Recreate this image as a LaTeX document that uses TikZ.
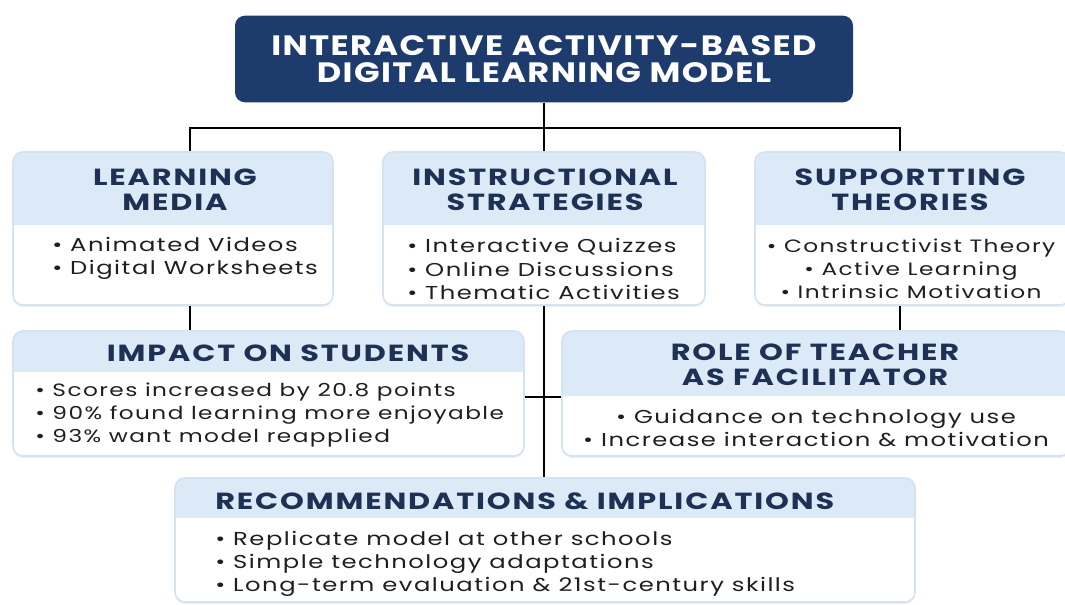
\documentclass[tikz,border=0pt]{standalone}
\usepackage{fontspec}
\setmainfont{Poppins}
\newfontfamily\titlefont[FakeStretch=1.2, LetterSpace=5]{Poppins}
\newfontfamily\headfont[FakeStretch=1.3, LetterSpace=8]{Poppins}
\newfontfamily\bodyfont[FakeStretch=1.3, LetterSpace=8]{Poppins}
\usetikzlibrary{fit,shadows}
\definecolor{navy}{HTML}{1D3B6C}
\definecolor{headtxt}{HTML}{1E3154}
\definecolor{headfill}{HTML}{DCEAF7}
\definecolor{edge}{HTML}{D4E3F1}
\definecolor{bodytxt}{HTML}{1F1F1F}
\newcommand\mkpanel[6]{%
  \fill[white, rounded corners=7.5pt, boxshadow] (#2,#3) rectangle (#4,#5);
  \begin{scope}
    \clip[rounded corners=7.5pt] (#2,#3) rectangle (#4,#5);
    \fill[headfill] (#2,#3) rectangle (#4,#6);
  \end{scope}
  \node[panel, fit={(#2,#3)(#4,#5)}] (#1) {};}
\begin{document}
\begin{tikzpicture}[x=0.75pt,y=-0.75pt,
  conn/.style={draw=black, line width=1.6pt},
  boxshadow/.style={drop shadow={opacity=0.12, shadow xshift=0pt, shadow yshift=-1.5pt}},
  panel/.style={draw=edge, line width=1.2pt, rounded corners=7.5pt, inner sep=0pt},
  titlebox/.style={fill=navy, rounded corners=7.5pt, text=white, align=center,
    font=\titlefont\fontsize{21}{20.5}\selectfont\bfseries, minimum width=463.5pt, minimum height=65pt, inner sep=0pt},
  headtext/.style={text=headtxt, font=\headfont\fontsize{17.5}{18.8}\selectfont\bfseries, align=center, inner sep=0pt},
  bodytext/.style={text=bodytxt, font=\bodyfont\fontsize{14}{17.3}\selectfont, inner sep=0pt},
  smallbody/.style={bodytext, font=\bodyfont\fontsize{13.4}{17.3}\selectfont},
]
\clip (0,0) rectangle (1065,604);
\fill[white] (0,0) rectangle (1065,604);

% connectors
\coordinate (b1) at (190,128);
\coordinate (b3) at (900,128);
\coordinate (mid) at (544,397);

\mkpanel{lm}{13}{152}{333}{305}{225}
\mkpanel{ins}{383}{152}{705}{305}{225}
\mkpanel{st}{755}{152}{1070}{305}{225}
\mkpanel{imp}{13}{331}{524}{456}{372}
\mkpanel{role}{562}{331}{1070}{456}{396}
\mkpanel{rec}{175}{478}{915}{602}{518}

\node[titlebox] (title) at (544,59) {INTERACTIVE ACTIVITY-BASED\\DIGITAL LEARNING MODEL};

\draw[conn] (title.south) -- (title.south |- ins.north);
\draw[conn] (b1 |- lm.north) -- (b1) -- (b3) -- (b3 |- st.north);
\draw[conn] (b1 |- lm.south) -- (b1 |- imp.north);
\draw[conn] (b3 |- st.south) -- (b3 |- role.north);
\draw[conn] (title.south |- ins.south) -- (title.south |- rec.north);
\draw[conn] (imp.east |- mid) -- (role.west |- mid);

% texts
\node[headtext] (lmh) at (175,190) {LEARNING\\MEDIA};
\node[bodytext, align=left, anchor=west] (lmb) at (52,258) {• Animated Videos\\• Digital Worksheets};

\node[headtext] (insh) at (545,190) {INSTRUCTIONAL\\STRATEGIES};
\node[bodytext, align=left, anchor=west] (insb) at (407,269) {• Interactive Quizzes\\• Online Discussions\\• Thematic Activities};

\node[headtext] (sth) at (910,190) {SUPPORTTING\\THEORIES};
\node[smallbody, align=center] (stb) at (911,269) {• Constructivist Theory\\• Active Learning\\• Intrinsic Motivation};

\node[headtext] (imph) at (288,353) {IMPACT ON STUDENTS};
\node[smallbody, align=left, anchor=west] (impb) at (35,415) {• Scores increased by 20.8 points\\• 90\% found learning more enjoyable\\• 93\% want model reapplied};

\node[headtext] (roleh) at (815,365) {ROLE OF TEACHER\\AS FACILITATOR};
\node[bodytext, align=center] (roleb) at (816,428) {• Guidance on technology use\\• Increase interaction \& motivation};

\node[headtext, anchor=west] (rech) at (215,501) {RECOMMENDATIONS \& IMPLICATIONS};
\node[bodytext, align=left, anchor=west] (recb) at (215,564) {• Replicate model at other schools\\• Simple technology adaptations\\• Long-term evaluation \& 21st-century skills};
\end{tikzpicture}
\end{document}
